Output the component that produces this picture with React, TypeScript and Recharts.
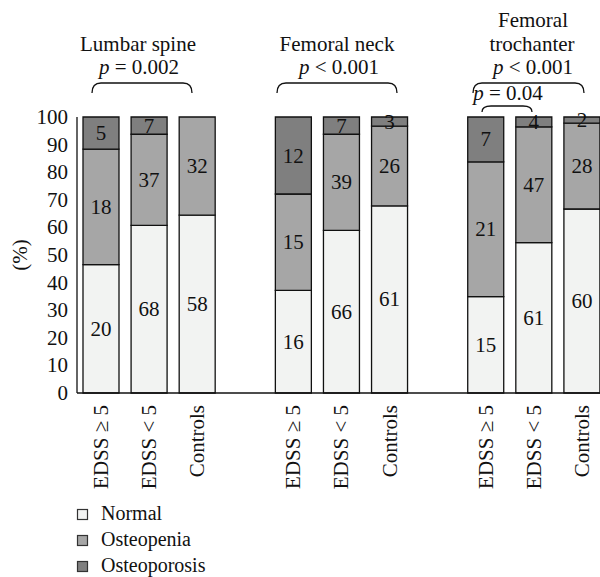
import React from 'react';
import { BarChart, Bar, XAxis, YAxis, LabelList } from 'recharts';

const FONT = 'Liberation Serif';
const FS = 21;

const siteGroups = ['Lumbar spine', 'Femoral neck', 'Femoral trochanter'];
const subgroups = ['EDSS ≥ 5', 'EDSS < 5', 'Controls'];
const normal = [20, 68, 58, 16, 66, 61, 15, 61, 60];
const osteopenia = [18, 37, 32, 15, 39, 26, 21, 47, 28];
const osteoporosis = [5, 7, 0, 12, 7, 3, 7, 4, 2];
const seriesKeys = ['normal', 'osteopenia', 'osteoporosis'];
const seriesNames = ['Normal', 'Osteopenia', 'Osteoporosis'];
const seriesColors = ['#f2f3f2', '#a6a6a6', '#7f7f7f'];
const yTicks = [0, 10, 20, 30, 40, 50, 60, 70, 80, 90, 100];

type Row = { id: string; label: string; normal?: number; osteopenia?: number; osteoporosis?: number };
const data: Row[] = [];
siteGroups.forEach((g, gi) => {
  if (gi > 0) data.push({ id: `gap${gi}`, label: '' });
  subgroups.forEach((s, si) => {
    const k = gi * 3 + si;
    data.push({ id: `${gi}-${si}`, label: s, normal: normal[k], osteopenia: osteopenia[k], osteoporosis: osteoporosis[k] });
  });
});

const XTick = (props: any) => {
  const { x, y, payload } = props;
  const row = data.find((d) => d.id === payload.value);
  if (!row || !row.label) return null;
  return (
    <text
      transform={`translate(${x},${y + 10}) rotate(-90)`}
      textAnchor="end"
      dy="0.33em"
      fontSize={FS}
      fontFamily={FONT}
      fill="#111"
    >
      {row.label}
    </text>
  );
};

const YTick = (props: any) => {
  const { x, y, payload } = props;
  return (
    <text x={x} y={y} textAnchor="end" dominantBaseline="central" fontSize={FS} fontFamily={FONT} fill="#111">
      {Math.round(payload.value * 100)}
    </text>
  );
};

const SegLabel = (props: any) => {
  const { x, y, width, height, value } = props;
  if (value == null) return null;
  const cx = Number(x) + Number(width) / 2;
  const cy = value === 0 ? Number(y) - 7 : Number(y) + Number(height) / 2;
  return (
    <text x={cx} y={cy} textAnchor="middle" dominantBaseline="central" fontSize={FS} fontFamily={FONT} fill="#111">
      {value}
    </text>
  );
};

const YLabel = () => (
  <text transform="translate(20,255) rotate(-90)" textAnchor="middle" dominantBaseline="central" fontSize={FS} fontFamily={FONT} fill="#111">
    (%)
  </text>
);

const P = ({ op, val }: { op: string; val: string }) => (
  <>
    <tspan fontStyle="italic">p</tspan>
    <tspan>{` ${op} ${val}`}</tspan>
  </>
);

const brace = (x1: number, x2: number, yTop: number, yEnd: number) =>
  `M${x1},${yEnd} Q${x1},${yTop} ${x1 + 9},${yTop} L${x2 - 9},${yTop} Q${x2},${yTop} ${x2},${yEnd}`;

export default function App() {
  return (
    <div style={{ position: 'absolute', left: 0, top: 0, width: 600, height: 577, overflow: 'hidden', background: '#fff' }}>
      <BarChart
        width={610}
        height={577}
        data={data}
        stackOffset="expand"
        margin={{ top: 117, right: 4, bottom: 84, left: 0 }}
      >
        <XAxis
          dataKey="id"
          type="category"
          tick={<XTick />}
          tickLine={false}
          tickSize={0}
          interval={0}
          height={100}
          axisLine={{ stroke: '#111', strokeWidth: 1.3 }}
        />
        <YAxis
          type="number"
          domain={[0, 1]}
          ticks={yTicks.map((v) => v / 100)}
          interval={0}
          width={77}
          tickLine={false}
          tickSize={9}
          tickMargin={0}
          tick={<YTick />}
          axisLine={{ stroke: '#111', strokeWidth: 1.3 }}
          label={<YLabel />}
        />
        {seriesKeys.map((k, i) => (
          <Bar
            key={k}
            dataKey={k}
            name={seriesNames[i]}
            stackId="a"
            fill={seriesColors[i]}
            stroke="#111"
            strokeWidth={1.3}
            barSize={36}
            isAnimationActive={false}
          >
            <LabelList dataKey={k} content={<SegLabel />} />
          </Bar>
        ))}
      </BarChart>
      <svg width={600} height={577} style={{ position: 'absolute', left: 0, top: 0, pointerEvents: 'none' }}>
        <g fontFamily={FONT} fontSize={FS} fill="#111" textAnchor="middle">
          <text x={138} y={51}>Lumbar spine</text>
          <text x={139} y={74}><P op="=" val="0.002" /></text>
          <text x={337} y={51}>Femoral neck</text>
          <text x={339} y={74}><P op="<" val="0.001" /></text>
          <text x={533} y={27}>Femoral</text>
          <text x={532} y={51}>trochanter</text>
          <text x={533} y={74}><P op="<" val="0.001" /></text>
          <text x={508} y={100}><P op="=" val="0.04" /></text>
        </g>
        <g fill="none" stroke="#111" strokeWidth={1.3}>
          <path d={brace(92, 192, 83, 93)} />
          <path d={brace(277, 397, 83, 93)} />
          <path d={brace(473, 584, 83, 93)} />
          <path d={brace(482, 532, 106, 112)} />
        </g>
        <g fontFamily={FONT} fontSize={20} fill="#111">
          {seriesNames.map((n, i) => (
            <g key={n}>
              <rect x={77.5} y={509.5 + i * 26} width={10} height={10} fill={seriesColors[i]} stroke="#333" strokeWidth={1.2} />
              <text x={101} y={520 + i * 26}>{n}</text>
            </g>
          ))}
        </g>
      </svg>
    </div>
  );
}
